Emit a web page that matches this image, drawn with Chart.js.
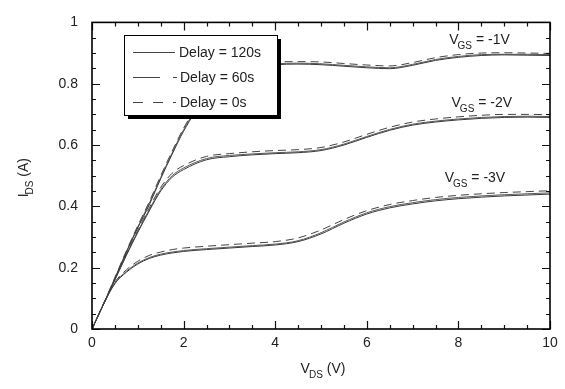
<!DOCTYPE html>
<html>
<head>
<meta charset="utf-8">
<script src="https://cdn.jsdelivr.net/npm/chart.js@4/dist/chart.umd.min.js"></script>
<style>
  html, body { margin: 0; padding: 0; background: #fff; }
  #chart { display: block; }
</style>
</head>
<body>
<canvas id="chart" width="565" height="389"></canvas>
<script>
// Drain voltage (V)
const vds = [0, 0.25, 0.5, 0.75, 1, 1.25, 1.5, 1.75, 2, 2.5, 3, 3.5, 4, 4.5, 5, 5.5, 6, 6.5, 7, 7.5, 8, 8.5, 9, 9.5, 10];

// Drain current (A), VGS = -1V
const vgs1Delay120 = [0, 0.08, 0.165, 0.25, 0.33, 0.405, 0.49, 0.57, 0.645, 0.76, 0.83, 0.855, 0.862, 0.864, 0.862, 0.857, 0.852, 0.849, 0.86, 0.876, 0.886, 0.892, 0.894, 0.893, 0.892];
const vgs1Delay60 = [0, 0.081, 0.166, 0.252, 0.333, 0.41, 0.494, 0.574, 0.65, 0.765, 0.834, 0.858, 0.865, 0.867, 0.865, 0.86, 0.855, 0.852, 0.863, 0.879, 0.889, 0.895, 0.896, 0.896, 0.895];
const vgs1Delay0 = [0, 0.082, 0.168, 0.255, 0.337, 0.415, 0.5, 0.58, 0.655, 0.77, 0.84, 0.864, 0.871, 0.872, 0.871, 0.866, 0.861, 0.858, 0.869, 0.885, 0.895, 0.9, 0.901, 0.9, 0.899];

// VGS = -2V
const vgs2Delay120 = [0, 0.08, 0.16, 0.24, 0.315, 0.385, 0.45, 0.495, 0.52, 0.552, 0.562, 0.568, 0.572, 0.575, 0.582, 0.6, 0.625, 0.648, 0.665, 0.675, 0.682, 0.687, 0.69, 0.691, 0.69];
const vgs2Delay60 = [0, 0.081, 0.161, 0.242, 0.318, 0.389, 0.455, 0.5, 0.525, 0.556, 0.566, 0.571, 0.575, 0.578, 0.585, 0.603, 0.628, 0.651, 0.668, 0.678, 0.685, 0.69, 0.693, 0.694, 0.693];
const vgs2Delay0 = [0, 0.082, 0.163, 0.245, 0.322, 0.395, 0.462, 0.508, 0.533, 0.563, 0.572, 0.578, 0.582, 0.585, 0.592, 0.61, 0.635, 0.658, 0.675, 0.685, 0.692, 0.697, 0.7, 0.7, 0.699];

// VGS = -3V
const vgs3Delay120 = [0, 0.08, 0.148, 0.185, 0.212, 0.23, 0.241, 0.248, 0.253, 0.259, 0.264, 0.269, 0.274, 0.285, 0.31, 0.345, 0.375, 0.395, 0.408, 0.418, 0.425, 0.43, 0.434, 0.437, 0.44];
const vgs3Delay60 = [0, 0.081, 0.15, 0.188, 0.215, 0.233, 0.244, 0.251, 0.256, 0.262, 0.267, 0.272, 0.277, 0.288, 0.314, 0.349, 0.379, 0.399, 0.412, 0.422, 0.429, 0.434, 0.438, 0.441, 0.444];
const vgs3Delay0 = [0, 0.082, 0.153, 0.193, 0.221, 0.24, 0.251, 0.259, 0.264, 0.27, 0.275, 0.28, 0.285, 0.297, 0.323, 0.357, 0.386, 0.406, 0.419, 0.429, 0.436, 0.441, 0.445, 0.448, 0.451];

const delayLabels = ['Delay = 120s', '- Delay = 60s', '- Delay = 0s'];
const curveLabels = [
    { text: '-1V', x: 7.8, y: 0.93 },
    { text: '-2V', x: 7.85, y: 0.725 },
    { text: '-3V', x: 7.7, y: 0.478 }
];

const FONT = "'Liberation Sans', Arial, sans-serif";
const INK = '#222';

const styles = [
    { color: '#3a3a3a', dash: [] },
    { color: '#5a5a5a', dash: [] },
    { color: '#444', dash: [8, 5] }
];
const legendDash = [[], [27, 13], [10, 10]];

function toPoints(ys) {
    return ys.map((y, i) => ({ x: vds[i], y: y }));
}

function makeSet(ys, delayIndex) {
    return {
        label: delayLabels[delayIndex],
        data: toPoints(ys),
        borderColor: styles[delayIndex].color,
        borderDash: styles[delayIndex].dash,
        borderWidth: 1,
        pointRadius: 0,
        fill: false,
        cubicInterpolationMode: 'monotone'
    };
}

const datasets = [
    makeSet(vgs1Delay120, 0), makeSet(vgs1Delay60, 1), makeSet(vgs1Delay0, 2),
    makeSet(vgs2Delay120, 0), makeSet(vgs2Delay60, 1), makeSet(vgs2Delay0, 2),
    makeSet(vgs3Delay120, 0), makeSet(vgs3Delay60, 1), makeSet(vgs3Delay0, 2)
];

// text with a subscript, drawn left to right from (x, baseline)
function subText(ctx, x, y, main, sub, rest, size) {
    ctx.font = size + 'px ' + FONT;
    ctx.fillText(main, x, y);
    let w = ctx.measureText(main).width;
    ctx.font = Math.round(size * 0.7) + 'px ' + FONT;
    ctx.fillText(sub, x + w - 1, y + 5);
    w += ctx.measureText(sub).width - 1;
    ctx.font = size + 'px ' + FONT;
    ctx.fillText(rest, x + w, y);
}

function subWidth(ctx, main, sub, rest, size) {
    ctx.font = size + 'px ' + FONT;
    let w = ctx.measureText(main).width + ctx.measureText(rest).width;
    ctx.font = Math.round(size * 0.7) + 'px ' + FONT;
    return w + ctx.measureText(sub).width - 1;
}

const framePlugin = {
    id: 'frame',
    afterDatasetsDraw(chart) {
        const ctx = chart.ctx;
        const a = chart.chartArea;
        const xs = chart.scales.x;
        const ys = chart.scales.y;
        ctx.save();

        // inward ticks on all four sides
        ctx.strokeStyle = '#111';
        ctx.lineWidth = 1.2;
        ctx.beginPath();
        for (let i = 0; i <= 20; i++) {
            const v = i * 0.5;
            const px = Math.round(xs.getPixelForValue(v)) + 0.5;
            const major = i % 4 === 0;
            ctx.moveTo(px, a.bottom);
            ctx.lineTo(px, a.bottom - (major ? 8 : 4));
            ctx.moveTo(px, a.top);
            ctx.lineTo(px, a.top + (major ? 8 : 4));
        }
        for (let i = 0; i <= 20; i++) {
            const v = i * 0.05;
            const py = Math.round(ys.getPixelForValue(v)) + 0.5;
            const major = i % 4 === 0;
            ctx.moveTo(a.left, py);
            ctx.lineTo(a.left + (major ? 8 : 4), py);
            ctx.moveTo(a.right, py);
            ctx.lineTo(a.right - (major ? 8 : 4), py);
        }
        ctx.stroke();

        // frame
        ctx.lineWidth = 1.6;
        ctx.strokeStyle = '#000';
        ctx.strokeRect(a.left, a.top, a.right - a.left, a.bottom - a.top);

        // curve labels
        ctx.fillStyle = INK;
        ctx.textBaseline = 'alphabetic';
        ctx.textAlign = 'left';
        curveLabels.forEach(c => {
            subText(ctx, xs.getPixelForValue(c.x), ys.getPixelForValue(c.y), 'V', 'GS', ' = ' + c.text, 14);
        });

        // legend box with shadow
        const lx = 124, ly = 35, lw = 153, lh = 80;
        ctx.fillStyle = '#000';
        ctx.fillRect(lx + 4, ly + 4, lw, lh);
        ctx.fillStyle = '#fff';
        ctx.fillRect(lx, ly, lw, lh);
        ctx.lineWidth = 1;
        ctx.strokeStyle = '#000';
        ctx.strokeRect(lx + 0.5, ly + 0.5, lw, lh);
        const rows = [52, 77, 102];
        const sampleEnd = [175, 177, 176];
        rows.forEach((ry, i) => {
            ctx.beginPath();
            ctx.setLineDash(legendDash[i]);
            ctx.strokeStyle = '#444';
            ctx.lineWidth = 1;
            ctx.moveTo(133, ry + 0.5);
            ctx.lineTo(sampleEnd[i], ry + 0.5);
            ctx.stroke();
            ctx.setLineDash([]);
            ctx.fillStyle = INK;
            ctx.font = '14px ' + FONT;
            ctx.textBaseline = 'middle';
            const txt = i === 0 ? delayLabels[i] : delayLabels[i].slice(2);
            ctx.fillText(txt, i === 0 ? 179 : 180, ry + 1);
        });

        // axis titles
        ctx.textBaseline = 'alphabetic';
        ctx.fillStyle = INK;
        const xw = subWidth(ctx, 'V', 'DS', ' (V)', 14);
        subText(ctx, (a.left + a.right) / 2 - xw / 2 + 2, 373, 'V', 'DS', ' (V)', 14);

        ctx.translate(28, (a.top + a.bottom) / 2);
        ctx.rotate(-Math.PI / 2);
        const yw = subWidth(ctx, 'I', 'DS', ' (A)', 14);
        subText(ctx, -yw / 2 - 2, 0, 'I', 'DS', ' (A)', 14);

        ctx.restore();
    }
};

new Chart(document.getElementById('chart'), {
    type: 'line',
    data: { datasets: datasets },
    options: {
        responsive: false,
        animation: false,
        devicePixelRatio: 1,
        layout: { padding: { top: 13, right: 15, left: 0, bottom: 0 } },
        plugins: {
            legend: { display: false },
            tooltip: { enabled: false }
        },
        scales: {
            x: {
                type: 'linear',
                min: 0,
                max: 10,
                grid: { display: true, drawOnChartArea: false, drawTicks: true, tickLength: 0, color: 'rgba(0,0,0,0)' },
                border: { display: false },
                ticks: {
                    stepSize: 2,
                    padding: 6,
                    color: INK,
                    font: { family: FONT, size: 14 },
                    maxRotation: 0
                },
                afterFit: scale => { scale.height = 60; }
            },
            y: {
                type: 'linear',
                min: 0,
                max: 1,
                grid: { display: true, drawOnChartArea: false, drawTicks: true, tickLength: 0, color: 'rgba(0,0,0,0)' },
                border: { display: false },
                ticks: {
                    stepSize: 0.2,
                    padding: 14,
                    color: INK,
                    font: { family: FONT, size: 14 },
                    callback: v => (v === 0 || v === 1) ? String(v) : v.toFixed(1)
                },
                afterFit: scale => { scale.width = 92; }
            }
        }
    },
    plugins: [framePlugin]
});
</script>
</body>
</html>
